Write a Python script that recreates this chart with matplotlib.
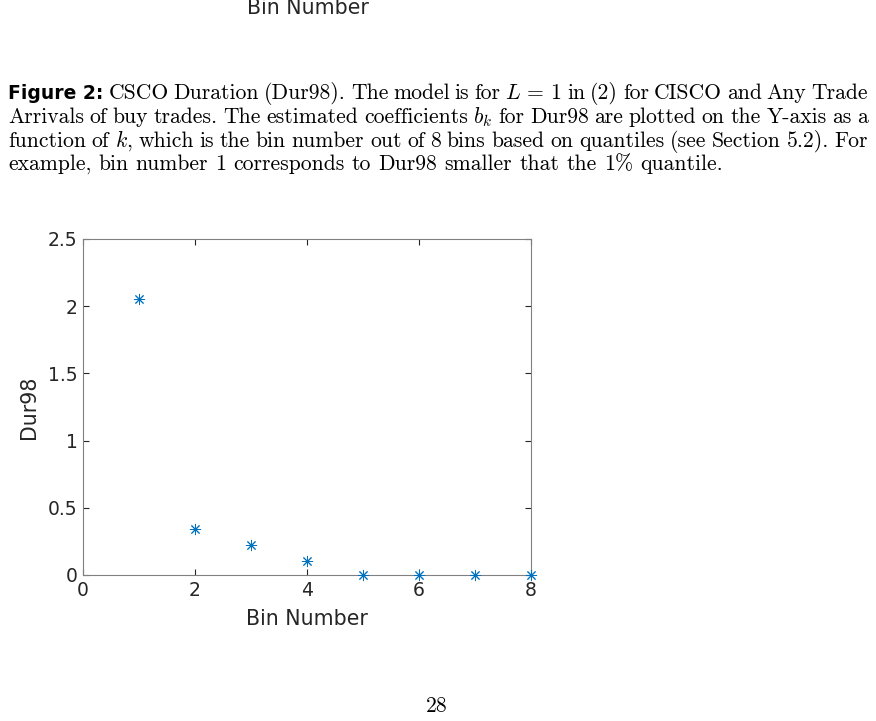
import matplotlib
matplotlib.use("Agg")
import matplotlib.pyplot as plt

plt.rcParams['mathtext.fontset'] = 'cm'

bins = [1, 2, 3, 4, 5, 6, 7, 8]
dur98 = [2.054, 0.342, 0.223, 0.104, 0.0, 0.0, 0.0, 0.0]
xticks = [0, 2, 4, 6, 8]
yticks = [0, 0.5, 1, 1.5, 2, 2.5]
ytick_labels = ["0", "0.5", "1", "1.5", "2", "2.5"]

caption_lines = [
    [("Figure 2:", "bold"), "CSCO", "Duration", "(Dur98).", "The", "model", "is", "for", r"$L\,=\,1$",
     "in", "(2)", "for", "CISCO", "and", "Any", "Trade"],
    ["Arrivals", "of", "buy", "trades.", "The", "estimated", "coefficients", r"$b_k$", "for", "Dur98", "are",
     "plotted", "on", "the", "Y-axis", "as", "a"],
    ["function", "of", r"$k$,", "which", "is", "the", "bin", "number", "out", "of", "8", "bins", "based", "on",
     "quantiles", "(see", "Section", "5.2).", "For"],
    ["example,", "bin", "number", "1", "corresponds", "to", "Dur98", "smaller", "that", "the", r"1$\%$", "quantile."],
]

W, H = 876, 721
fig = plt.figure(figsize=(W / 100, H / 100), dpi=100)

TXT = '#262626'
ax = fig.add_axes([83 / W, 1 - 575 / H, (531 - 83) / W, (575 - 239) / H])
ax.plot(bins, dur98, linestyle='none', marker=(8, 2, 0), markersize=8, markeredgewidth=0.7,
        color='#0072BD', clip_on=False, zorder=5)
ax.set_xlim(0, 8)
ax.set_ylim(0, 2.5)
ax.set_xticks(xticks)
ax.set_yticks(yticks)
ax.set_yticklabels(ytick_labels)
ax.tick_params(direction='in', length=4, width=0.8, top=True, right=True, labelsize=13.5,
               labelcolor=TXT, color='#262626', pad=4)
for s in ax.spines.values():
    s.set_color('#808080')
    s.set_linewidth(0.8)
ax.set_xlabel("Bin Number", fontsize=14.8, color=TXT, labelpad=7)
ax.set_ylabel("Dur98", fontsize=14.8, color=TXT, labelpad=6)

# label of the previous figure, partly cut at the top edge of the page (as in the reference)
fig.text(308 / W, 1 - 14 / H, "Bin Number", fontsize=14.8, color=TXT, ha='center', va='baseline')

# caption, justified
fig.canvas.draw()
renderer = fig.canvas.get_renderer()
left, right = 8, 868
line_y = [93, 117, 141, 164]
FS = 15.6
base_space = 0.33 * FS * 100 / 72
for li, words in enumerate(caption_lines):
    texts = []
    for w in words:
        if isinstance(w, tuple):
            t = fig.text(0, 0, w[0], fontsize=13.5, family='DejaVu Sans', weight='bold',
                         color='black', va='baseline', ha='left')
        else:
            t = fig.text(0, 0, w, fontsize=FS, family='cmr10', color='black', va='baseline', ha='left')
        texts.append(t)
    widths = [t.get_window_extent(renderer).width for t in texts]
    total = sum(widths)
    last = li == len(caption_lines) - 1
    if last or len(texts) < 2:
        gap = base_space
    else:
        gap = (right - left - total) / (len(texts) - 1)
    x = left
    yb = line_y[li] + 6
    for t, wd in zip(texts, widths):
        t.set_position((x / W, 1 - yb / H))
        x += wd + gap

fig.text(437 / W, 1 - 712 / H, "28", fontsize=FS, family='cmr10', ha='center', va='baseline')

fig.savefig("out.png", dpi=100)
